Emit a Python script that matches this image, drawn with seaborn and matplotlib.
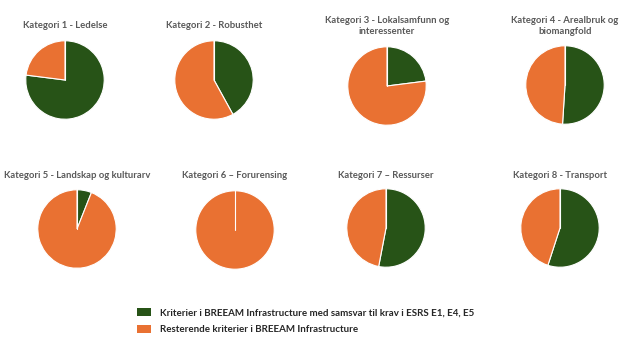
import matplotlib
matplotlib.use("Agg")
import matplotlib.pyplot as plt
import seaborn as sns
from matplotlib.patches import Patch

# Data (share of criteria, in percent)
titles = [
    "Kategori 1 - Ledelse",
    "Kategori 2 - Robusthet",
    "Kategori 3 - Lokalsamfunn og\ninteressenter",
    "Kategori 4 - Arealbruk og\nbiomangfold",
    "Kategori 5 - Landskap og kulturarv",
    "Kategori 6 \u2013 Forurensing",
    "Kategori 7 \u2013 Ressurser",
    "Kategori 8 - Transport",
]
samsvar = [77, 42, 23, 51, 6, 0, 53, 55]
resterende = [23, 58, 77, 49, 94, 100, 47, 45]
legend_labels = [
    "Kriterier i BREEAM Infrastructure med samsvar til krav i ESRS E1, E4, E5",
    "Resterende kriterier i BREEAM Infrastructure",
]

sns.set_theme(style="white")
plt.rcParams["font.family"] = ["Lato", "DejaVu Sans"]
colors = sns.color_palette(["#275317", "#E97132"])

W, H = 640, 360
fig = plt.figure(figsize=(6.4, 3.6), dpi=100)

# pie centres / radius in pixels, title centre y
centres = [(65, 80), (214, 80), (387, 86), (565, 85),
           (77, 229), (235, 230), (386, 228), (560, 228)]
radius = 40
title_y = [25, 25, 26, 26, 176, 176, 175, 176]

for i, (cx, cy) in enumerate(centres):
    ax = fig.add_axes([(cx - radius) / W, 1 - (cy + radius) / H,
                       2 * radius / W, 2 * radius / H])
    ax.pie([samsvar[i], resterende[i]], colors=colors, startangle=90,
           counterclock=False,
           wedgeprops=dict(edgecolor="white", linewidth=0.8))
    # white seam at the start angle (shows even when one slice is 100 %)
    ax.axvline(0, ymin=0.5, ymax=1, color="white", lw=0.8)
    ax.set_xlim(-1.02, 1.02)
    ax.set_ylim(-1.02, 1.02)
    ax.set_aspect("equal")
    fig.text(cx / W, 1 - title_y[i] / H, titles[i], ha="center", va="center",
             fontsize=6.8, fontweight="bold", color="#595959", linespacing=1.2)

handles = [Patch(facecolor=c, edgecolor="none") for c in colors]
fig.legend(handles, legend_labels, loc="upper left",
           bbox_to_anchor=(128 / W, 1 - 299 / H), frameon=False,
           handlelength=1.5, handleheight=0.9,
           handletextpad=0.9, labelspacing=0.8,
           prop=dict(weight="bold", size=7))
for t in fig.legends[0].get_texts():
    t.set_color("#262626")

fig.savefig("out.png", dpi=100)
